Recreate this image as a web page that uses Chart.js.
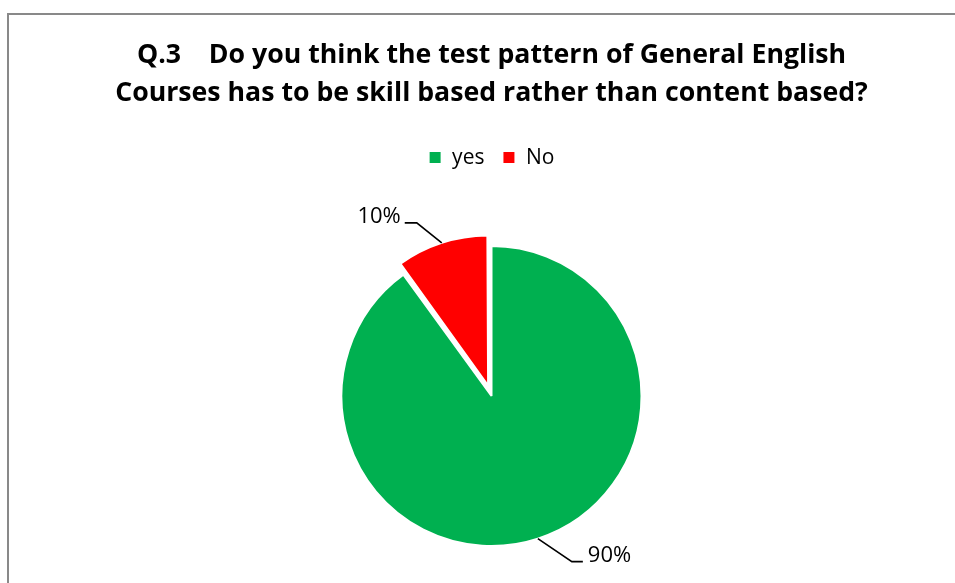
<!DOCTYPE html>
<html>
<head>
<meta charset="utf-8">
<title>Q.3 test pattern</title>
<script src="https://cdn.jsdelivr.net/npm/chart.js@4.4.0/dist/chart.umd.min.js"></script>
<style>
  html, body { margin: 0; padding: 0; background: #fff; overflow: hidden; }
  .frame {
    position: absolute; left: 7px; top: 13px;
    width: 1000px; height: 700px;
    border: 2px solid #898989; box-sizing: border-box;
  }
  .chart-wrap { position: absolute; left: 0; top: 0; width: 955px; height: 640px; }
</style>
</head>
<body>
<div class="frame"></div>
<div class="chart-wrap"><canvas id="pie"></canvas></div>
<script>
const titleLines = [
    'Q.3    Do you think the test pattern of General English',
    'Courses has to be skill based rather than content based?'
];
const categories = ['yes', 'No'];
const shares = [90, 10];
const sliceColors = ['#00B050', '#FF0000'];

const FONT = '"Open Sans", Lato, sans-serif';

// leader line shape per slice: diagonal step out from the rim, then a short run
const leaders = [
    { dx: 34, dy: 23, run: 11 },
    { dx: -25, dy: -20, run: -12 }
];

// Chart.js grows an exploded arc's radius a little; pull it back so
// the pulled-out slice keeps the same size as the rest of the pie
const keepRadius = {
    id: 'keepRadius',
    afterDatasetUpdate(chart, args) {
        args.meta.data.forEach(arc => {
            const shift = (arc.options.offset || 0) / 4;
            if (!shift) return;
            const circ = arc.endAngle - arc.startAngle;
            const fix = 1 - Math.sin(Math.min(Math.PI, circ));
            arc.outerRadius -= shift * fix;
        });
    }
};

const leaderLines = {
    id: 'leaderLines',
    afterDatasetsDraw(chart) {
        const ctx = chart.ctx;
        const meta = chart.getDatasetMeta(0);
        meta.data.forEach((arc, i) => {
            const { x, y, startAngle, endAngle, outerRadius } =
                arc.getProps(['x', 'y', 'startAngle', 'endAngle', 'outerRadius'], true);
            const mid = (startAngle + endAngle) / 2;
            const shift = (arc.options.offset || 0) / 4;
            const fix = 1 - Math.sin(Math.min(Math.PI, endAngle - startAngle));
            const rim = outerRadius + shift + shift * fix;
            const sx = x + Math.cos(mid) * rim;
            const sy = y + Math.sin(mid) * rim;
            const lead = leaders[i];
            const kx = sx + lead.dx, ky = sy + lead.dy;
            const ex = kx + lead.run;

            ctx.save();
            ctx.strokeStyle = '#000';
            ctx.lineWidth = 1.6;
            ctx.beginPath();
            ctx.moveTo(sx, sy);
            ctx.lineTo(kx, ky);
            ctx.lineTo(ex, ky);
            ctx.stroke();

            ctx.fillStyle = '#000';
            ctx.font = '22px ' + FONT;
            ctx.textBaseline = 'alphabetic';
            ctx.textAlign = lead.run > 0 ? 'left' : 'right';
            ctx.fillText(shares[i] + '%', ex + (lead.run > 0 ? 5 : -4), ky);
            ctx.restore();
        });
    }
};

new Chart(document.getElementById('pie'), {
    type: 'pie',
    data: {
        labels: categories,
        datasets: [{
            data: shares,
            backgroundColor: sliceColors,
            borderColor: '#ffffff',
            borderWidth: 2,
            offset: [0, 44],
            hoverOffset: 0,
            radius: 150
        }]
    },
    options: {
        responsive: true,
        maintainAspectRatio: false,
        animation: false,
        events: [],
        layout: { padding: { left: 28, right: 0, top: 0, bottom: 26 } },
        plugins: {
            title: {
                display: true,
                text: titleLines,
                color: '#000',
                font: { family: FONT, size: 26.7, weight: 'bold', lineHeight: 1.405 },
                padding: { top: 37, bottom: 17 }
            },
            legend: {
                display: true,
                position: 'top',
                labels: {
                    color: '#000',
                    font: { family: FONT, size: 21 },
                    boxWidth: 13,
                    boxHeight: 13,
                    padding: 18
                }
            },
            tooltip: { enabled: false }
        }
    },
    plugins: [keepRadius, leaderLines]
});
</script>
</body>
</html>
